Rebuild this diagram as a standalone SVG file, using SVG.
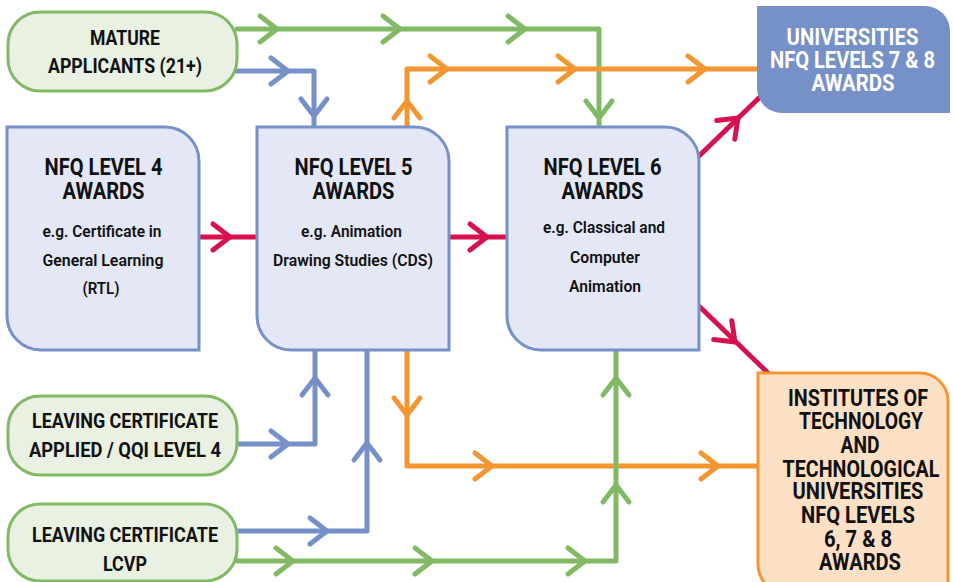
<svg xmlns="http://www.w3.org/2000/svg" xmlns:xlink="http://www.w3.org/1999/xlink" width="953" height="582" viewBox="0 0 953 582">
<style>
.ln{fill:none;stroke-width:5;stroke-linecap:round;stroke-linejoin:round}
.g{stroke:#82b964}.b{stroke:#7690c8}.o{stroke:#f39632}.r{stroke:#d6114f}
.pill{fill:#e8f1e2;stroke:#82b964;stroke-width:3}
.nfq{fill:#e3e7f6;stroke:#7690c8;stroke-width:3}
.t{font-family:"Roboto","Liberation Sans",sans-serif;font-weight:700;text-anchor:middle;fill:#111}
.h{font-size:23px}.s{font-size:17px;font-weight:600}.m{font-size:21px}.w{fill:#fff;font-size:23px}.i{font-size:23px}
</style>
<defs>
<path id="chev" d="M-17,-13 L0,0 L-17,13" fill="none" stroke-width="5" stroke-linecap="round" stroke-linejoin="round"/>
</defs>
<g id="connectors">
<path class="ln g" d="M237,29 H599 V125"/>
<use href="#chev" class="g" transform="translate(277,29)"/>
<use href="#chev" class="g" transform="translate(400,29)"/>
<use href="#chev" class="g" transform="translate(525,29)"/>
<use href="#chev" class="g" transform="translate(599,118) rotate(90)"/>
<path class="ln b" d="M237,71 H314 V125"/>
<use href="#chev" class="b" transform="translate(288,71)"/>
<use href="#chev" class="b" transform="translate(314,116) rotate(90)"/>
<path class="ln o" d="M407,126 V69 H757"/>
<use href="#chev" class="o" transform="translate(407,101) rotate(-90)"/>
<use href="#chev" class="o" transform="translate(447,69)"/>
<use href="#chev" class="o" transform="translate(575,69)"/>
<use href="#chev" class="o" transform="translate(705,69)"/>
<path class="ln r" d="M199,237 H257"/>
<use href="#chev" class="r" transform="translate(230,237)"/>
<path class="ln r" d="M449,237 H507"/>
<use href="#chev" class="r" transform="translate(487,237)"/>
<path class="ln r" d="M698,157 L762,95"/>
<use href="#chev" class="r" transform="translate(738,118) rotate(-44)"/>
<path class="ln r" d="M700,307 L768,373"/>
<use href="#chev" class="r" transform="translate(735,342) rotate(44)"/>
<path class="ln b" d="M237,444 H315 V351"/>
<use href="#chev" class="b" transform="translate(288,444)"/>
<use href="#chev" class="b" transform="translate(315,378) rotate(-90)"/>
<path class="ln b" d="M237,531 H367 V351"/>
<use href="#chev" class="b" transform="translate(327,531)"/>
<use href="#chev" class="b" transform="translate(367,443) rotate(-90)"/>
<path class="ln o" d="M407,351 V466 H758"/>
<use href="#chev" class="o" transform="translate(407,415) rotate(90)"/>
<use href="#chev" class="o" transform="translate(492,466)"/>
<use href="#chev" class="o" transform="translate(718,466)"/>
<path class="ln g" d="M237,561 H616 V351"/>
<use href="#chev" class="g" transform="translate(293,561)"/>
<use href="#chev" class="g" transform="translate(432,561)"/>
<use href="#chev" class="g" transform="translate(585,561)"/>
<use href="#chev" class="g" transform="translate(616,378) rotate(-90)"/>
<use href="#chev" class="g" transform="translate(616,485) rotate(-90)"/>
</g>
<g id="mature">
<rect class="pill" x="8" y="12" width="229" height="79" rx="32"/>
<text class="t m" x="125" y="45" textLength="70" lengthAdjust="spacingAndGlyphs">MATURE</text>
<text class="t m" x="125" y="73" textLength="154" lengthAdjust="spacingAndGlyphs">APPLICANTS (21+)</text>
</g>
<g id="lca">
<rect class="pill" x="8" y="396" width="229" height="79" rx="32"/>
<text class="t m" x="125" y="428" textLength="186" lengthAdjust="spacingAndGlyphs">LEAVING CERTIFICATE</text>
<text class="t m" x="125" y="457" textLength="192" lengthAdjust="spacingAndGlyphs">APPLIED / QQI LEVEL 4</text>
</g>
<g id="lcvp">
<rect class="pill" x="8" y="504" width="229" height="77" rx="32"/>
<text class="t m" x="125" y="542" textLength="186" lengthAdjust="spacingAndGlyphs">LEAVING CERTIFICATE</text>
<text class="t m" x="125" y="571" textLength="44" lengthAdjust="spacingAndGlyphs">LCVP</text>
</g>
<g id="nfq4">
<path class="nfq" d="M7,127 H165 A34,34 0 0 1 199,161 V350 H41 A34,34 0 0 1 7,316 Z"/>
<text class="t h" x="103.5" y="175" textLength="118" lengthAdjust="spacingAndGlyphs">NFQ LEVEL 4</text>
<text class="t h" x="103.5" y="199" textLength="82" lengthAdjust="spacingAndGlyphs">AWARDS</text>
<text class="t s" x="102" y="237" textLength="119" lengthAdjust="spacingAndGlyphs">e.g. Certificate in</text>
<text class="t s" x="103" y="266" textLength="121" lengthAdjust="spacingAndGlyphs">General Learning</text>
<text class="t s" x="101" y="294" textLength="37" lengthAdjust="spacingAndGlyphs">(RTL)</text>
</g>
<g id="nfq5">
<path class="nfq" d="M257,127 H415 A34,34 0 0 1 449,161 V350 H291 A34,34 0 0 1 257,316 Z"/>
<text class="t h" x="353.5" y="175" textLength="118" lengthAdjust="spacingAndGlyphs">NFQ LEVEL 5</text>
<text class="t h" x="353.5" y="199" textLength="82" lengthAdjust="spacingAndGlyphs">AWARDS</text>
<text class="t s" x="351.5" y="237" textLength="101" lengthAdjust="spacingAndGlyphs">e.g. Animation</text>
<text class="t s" x="353" y="266" textLength="160" lengthAdjust="spacingAndGlyphs">Drawing Studies (CDS)</text>
</g>
<g id="nfq6">
<path class="nfq" d="M507,127 H665 A34,34 0 0 1 699,161 V350 H541 A34,34 0 0 1 507,316 Z"/>
<text class="t h" x="602.5" y="175" textLength="118" lengthAdjust="spacingAndGlyphs">NFQ LEVEL 6</text>
<text class="t h" x="602.5" y="199" textLength="82" lengthAdjust="spacingAndGlyphs">AWARDS</text>
<text class="t s" x="604" y="233" textLength="122" lengthAdjust="spacingAndGlyphs">e.g. Classical and</text>
<text class="t s" x="605" y="263" textLength="70" lengthAdjust="spacingAndGlyphs">Computer</text>
<text class="t s" x="605" y="292" textLength="72" lengthAdjust="spacingAndGlyphs">Animation</text>
</g>
<g id="universities">
<path d="M757,6 H925 A25,25 0 0 1 950,31 V113 H782 A25,25 0 0 1 757,88 Z" fill="#7690c8"/>
<text class="t w" x="852.5" y="45" textLength="132" lengthAdjust="spacingAndGlyphs">UNIVERSITIES</text>
<text class="t w" x="852.5" y="68" textLength="165" lengthAdjust="spacingAndGlyphs">NFQ LEVELS 7 &amp; 8</text>
<text class="t w" x="853" y="91" textLength="83" lengthAdjust="spacingAndGlyphs">AWARDS</text>
</g>
<g id="institutes">
<path d="M758,373 H920 A28,28 0 0 1 948,401 V594 H788 A30,30 0 0 1 758,564 Z" fill="#fce0c5" stroke="#f39632" stroke-width="3"/>
<text class="t i" x="858" y="406" textLength="140" lengthAdjust="spacingAndGlyphs">INSTITUTES OF</text>
<text class="t i" x="861" y="429" textLength="124" lengthAdjust="spacingAndGlyphs">TECHNOLOGY</text>
<text class="t i" x="860" y="453" textLength="39" lengthAdjust="spacingAndGlyphs">AND</text>
<text class="t i" x="861" y="477" textLength="157" lengthAdjust="spacingAndGlyphs">TECHNOLOGICAL</text>
<text class="t i" x="858" y="499" textLength="131" lengthAdjust="spacingAndGlyphs">UNIVERSITIES</text>
<text class="t i" x="858" y="523" textLength="114" lengthAdjust="spacingAndGlyphs">NFQ LEVELS</text>
<text class="t i" x="858" y="547" textLength="68" lengthAdjust="spacingAndGlyphs">6, 7 &amp; 8</text>
<text class="t i" x="860" y="570" textLength="82" lengthAdjust="spacingAndGlyphs">AWARDS</text>
</g>
</svg>
